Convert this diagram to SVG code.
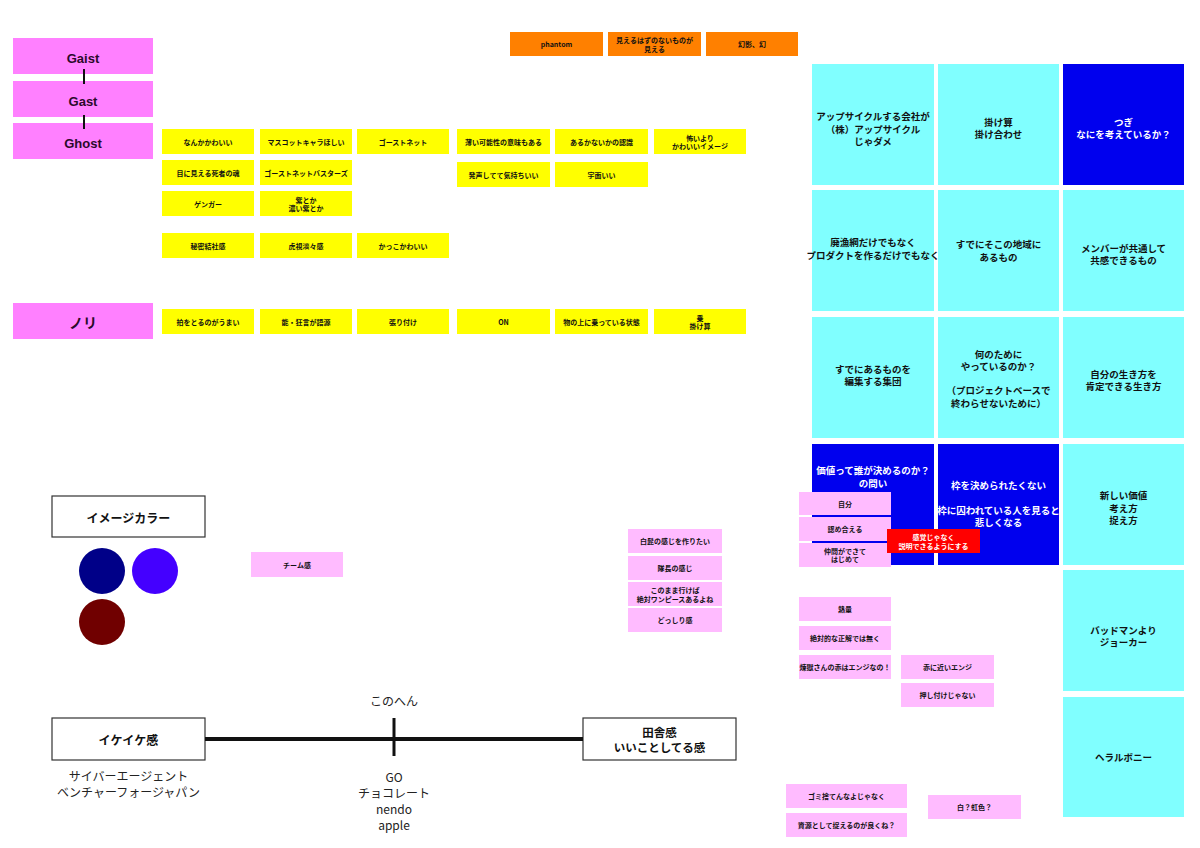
<svg xmlns="http://www.w3.org/2000/svg" width="1200" height="848" viewBox="0 0 1200 848">
<style>
text{font-family:"Noto Sans CJK JP","Liberation Sans",sans-serif;text-anchor:middle;dominant-baseline:central;fill:#111}
.mag{fill:#FF80FF}
.ttl{font-family:"Liberation Sans","Noto Sans CJK JP",sans-serif;font-weight:bold;font-size:13px;fill:#2a0a2a}
.org{fill:#FF8000}
.yel{fill:#FFFF00}
.pk{fill:#FFBBFF}
.cy{fill:#80FFFF}
.bl{fill:#0000EE}
.red{fill:#FF0000}
.s{font-size:7px;font-weight:bold}
.c{font-size:9.5px;font-weight:bold}
.w{fill:#fff}
.bx{fill:#fff;stroke:#333;stroke-width:1.2}
.h{font-size:12px;font-weight:bold}
.n{font-size:12px;font-weight:normal;fill:#222}
</style>
<rect width="1200" height="848" fill="#fff"/>

<g id="gaist"><rect class="mag" x="13" y="38" width="140" height="36"/><text class="ttl" x="83" y="58">Gaist</text></g>
<g id="gast"><rect class="mag" x="13" y="81" width="140" height="36"/><text class="ttl" x="83" y="101">Gast</text></g>
<g id="ghost"><rect class="mag" x="13" y="123" width="140" height="36"/><text class="ttl" x="83" y="143">Ghost</text></g>
<g id="nori"><rect class="mag" x="13" y="303" width="140" height="36"/><text x="83" y="322" style="font-size:14px;font-weight:bold;fill:#2a0a2a">ノリ</text></g>

<g id="o1"><rect class="org" x="510" y="32" width="93" height="24"/><text class="s" x="556.5" y="44">phantom</text></g>
<g id="o2"><rect class="org" x="608" y="32" width="93" height="24"/><text class="s" x="654.5" y="40">見えるはずのないものが</text><text class="s" x="654.5" y="49">見える</text></g>
<g id="o3"><rect class="org" x="706" y="32" width="92" height="24"/><text class="s" x="752" y="44">幻影、幻</text></g>

<g id="y11"><rect class="yel" x="162" y="129" width="92" height="25"/><text class="s" x="208" y="141.5">なんかかわいい</text></g>
<g id="y12"><rect class="yel" x="260" y="129" width="92" height="25"/><text class="s" x="306" y="141.5">マスコットキャラほしい</text></g>
<g id="y13"><rect class="yel" x="357" y="129" width="92" height="25"/><text class="s" x="403" y="141.5">ゴーストネット</text></g>
<g id="y14"><rect class="yel" x="457" y="129" width="93" height="25"/><text class="s" x="503.5" y="141.5">薄い可能性の意味もある</text></g>
<g id="y15"><rect class="yel" x="555" y="129" width="93" height="25"/><text class="s" x="601.5" y="141.5">あるかないかの認識</text></g>
<g id="y16"><rect class="yel" x="654" y="129" width="92" height="25"/><text class="s" x="700" y="137.5">怖いより</text><text class="s" x="700" y="146">かわいいイメージ</text></g>

<g id="y21"><rect class="yel" x="162" y="160" width="92" height="25"/><text class="s" x="208" y="172.5">目に見える死者の魂</text></g>
<g id="y22"><rect class="yel" x="260" y="160" width="92" height="25"/><text class="s" x="306" y="172.5">ゴーストネットバスターズ</text></g>
<g id="y24"><rect class="yel" x="457" y="162" width="93" height="25"/><text class="s" x="503.5" y="174.5">発声してて気持ちいい</text></g>
<g id="y25"><rect class="yel" x="555" y="162" width="93" height="25"/><text class="s" x="601.5" y="174.5">宇面いい</text></g>

<g id="y31"><rect class="yel" x="162" y="191" width="92" height="25"/><text class="s" x="208" y="203.5">ゲンガー</text></g>
<g id="y32"><rect class="yel" x="260" y="191" width="92" height="25"/><text class="s" x="306" y="199.5">紫とか</text><text class="s" x="306" y="208">濃い紫とか</text></g>

<g id="y41"><rect class="yel" x="162" y="233" width="92" height="25"/><text class="s" x="208" y="245.5">秘密結社感</text></g>
<g id="y42"><rect class="yel" x="260" y="233" width="92" height="25"/><text class="s" x="306" y="245.5">虎視淡々感</text></g>
<g id="y43"><rect class="yel" x="357" y="233" width="92" height="25"/><text class="s" x="403" y="245.5">かっこかわいい</text></g>

<g id="n1"><rect class="yel" x="162" y="309" width="92" height="25"/><text class="s" x="208" y="321.5">拍をとるのがうまい</text></g>
<g id="n2"><rect class="yel" x="260" y="309" width="92" height="25"/><text class="s" x="306" y="321.5">能・狂言が語源</text></g>
<g id="n3"><rect class="yel" x="357" y="309" width="92" height="25"/><text class="s" x="403" y="321.5">張り付け</text></g>
<g id="n4"><rect class="yel" x="457" y="309" width="93" height="25"/><text class="s" x="503.5" y="321.5">ON</text></g>
<g id="n5"><rect class="yel" x="555" y="309" width="93" height="25"/><text class="s" x="601.5" y="321.5">物の上に乗っている状態</text></g>
<g id="n6"><rect class="yel" x="654" y="309" width="92" height="25"/><text class="s" x="700" y="317.5">乗</text><text class="s" x="700" y="326">掛け算</text></g>

<g id="c11"><rect class="cy" x="812" y="64" width="122" height="121"/><text class="c" x="873" y="116">アップサイクルする会社が</text><text class="c" x="873" y="129">（株）アップサイクル</text><text class="c" x="873" y="141">じゃダメ</text></g>
<g id="c12"><rect class="cy" x="938" y="64" width="121" height="121"/><text class="c" x="998.5" y="122">掛け算</text><text class="c" x="998.5" y="134">掛け合わせ</text></g>
<g id="c13"><rect class="bl" x="1063" y="64" width="121" height="121"/><text class="c w" x="1123.5" y="122">つぎ</text><text class="c w" x="1123.5" y="134">なにを考えているか？</text></g>

<g id="c21"><rect class="cy" x="812" y="190" width="122" height="121"/><text class="c" x="873" y="242">廃漁網だけでもなく</text><text class="c" x="873" y="255">プロダクトを作るだけでもなく</text></g>
<g id="c22"><rect class="cy" x="938" y="190" width="121" height="121"/><text class="c" x="998.5" y="244">すでにそこの地域に</text><text class="c" x="998.5" y="257">あるもの</text></g>
<g id="c23"><rect class="cy" x="1063" y="190" width="121" height="121"/><text class="c" x="1123.5" y="248">メンバーが共通して</text><text class="c" x="1123.5" y="260">共感できるもの</text></g>

<g id="c31"><rect class="cy" x="812" y="317" width="122" height="121"/><text class="c" x="873" y="369">すでにあるものを</text><text class="c" x="873" y="381">編集する集団</text></g>
<g id="c32"><rect class="cy" x="938" y="317" width="121" height="121"/><text class="c" x="998.5" y="354">何のために</text><text class="c" x="998.5" y="366">やっているのか？</text><text class="c" x="998.5" y="390">（プロジェクトベースで</text><text class="c" x="998.5" y="403">終わらせないために）</text></g>
<g id="c33"><rect class="cy" x="1063" y="317" width="121" height="121"/><text class="c" x="1123.5" y="374">自分の生き方を</text><text class="c" x="1123.5" y="386">肯定できる生き方</text></g>

<g id="c41"><rect class="bl" x="812" y="444" width="122" height="121"/><text class="c w" x="873" y="470">価値って誰が決めるのか？</text><text class="c w" x="873" y="483">の問い</text></g>
<g id="c42"><rect class="bl" x="938" y="444" width="121" height="121"/><text class="c w" x="998.5" y="485">枠を決められたくない</text><text class="c w" x="998.5" y="510">枠に囚われている人を見ると</text><text class="c w" x="998.5" y="522">悲しくなる</text></g>
<g id="c43"><rect class="cy" x="1063" y="444" width="121" height="121"/><text class="c" x="1123.5" y="495">新しい価値</text><text class="c" x="1123.5" y="508">考え方</text><text class="c" x="1123.5" y="520">捉え方</text></g>

<g id="c53"><rect class="cy" x="1063" y="570" width="121" height="121"/><text class="c" x="1123.5" y="630">バッドマンより</text><text class="c" x="1123.5" y="642">ジョーカー</text></g>
<g id="c63"><rect class="cy" x="1063" y="697" width="121" height="120"/><text class="c" x="1123.5" y="757">ヘラルボニー</text></g>

<g id="p1"><rect class="pk" x="799" y="492" width="92" height="23"/><text class="s" x="845" y="503.5">自分</text></g>
<g id="p2"><rect class="pk" x="799" y="517" width="92" height="24"/><text class="s" x="845" y="529">認め合える</text></g>
<g id="p3"><rect class="pk" x="799" y="543" width="92" height="24"/><text class="s" x="845" y="551">仲間ができて</text><text class="s" x="845" y="559">はじめて</text></g>
<g id="r1"><rect class="red" x="887" y="529" width="93" height="24"/><text class="s w" x="933.5" y="537">感覚じゃなく</text><text class="s w" x="933.5" y="545.5">説明できるようにする</text></g>

<g id="p4"><rect class="pk" x="799" y="597" width="92" height="24"/><text class="s" x="845" y="609">熱量</text></g>
<g id="p5"><rect class="pk" x="799" y="626" width="92" height="24"/><text class="s" x="845" y="638">絶対的な正解では無く</text></g>
<g id="p6"><rect class="pk" x="799" y="655" width="92" height="24"/><text class="s" x="845" y="667">煉獄さんの赤はエンジなの！</text></g>
<g id="p7"><rect class="pk" x="901" y="655" width="93" height="24"/><text class="s" x="947.5" y="667">赤に近いエンジ</text></g>
<g id="p8"><rect class="pk" x="901" y="683" width="93" height="24"/><text class="s" x="947.5" y="695">押し付けじゃない</text></g>

<g id="p9"><rect class="pk" x="786" y="784" width="121" height="24"/><text class="s" x="846.5" y="796">ゴミ捨てんなよじゃなく</text></g>
<g id="p10"><rect class="pk" x="786" y="813" width="121" height="24"/><text class="s" x="846.5" y="825">資源として捉えるのが良くね？</text></g>
<g id="p11"><rect class="pk" x="928" y="795" width="93" height="24"/><text class="s" x="974.5" y="807">白？虹色？</text></g>

<g id="pteam"><rect class="pk" x="251" y="552" width="92" height="25"/><text class="s" x="297" y="564.5">チーム感</text></g>
<g id="pm1"><rect class="pk" x="628" y="529" width="94" height="24"/><text class="s" x="675" y="541">白髭の感じを作りたい</text></g>
<g id="pm2"><rect class="pk" x="628" y="556" width="94" height="24"/><text class="s" x="675" y="568">隊長の感じ</text></g>
<g id="pm3"><rect class="pk" x="628" y="582" width="94" height="24"/><text class="s" x="675" y="590">このまま行けば</text><text class="s" x="675" y="598.5">絶対ワンピースあるよね</text></g>
<g id="pm4"><rect class="pk" x="628" y="608" width="94" height="24"/><text class="s" x="675" y="620">どっしり感</text></g>

<g id="imagecolor"><rect class="bx" x="52" y="496" width="153" height="41"/><text class="h" x="128.5" y="517">イメージカラー</text>
<circle cx="102" cy="571" r="23" fill="#000088"/><circle cx="155" cy="571" r="23" fill="#4400FF"/><circle cx="102" cy="622" r="23" fill="#700000"/></g>

<g id="ikeike"><rect class="bx" x="52" y="718" width="153" height="42"/><text class="h" x="128.5" y="739">イケイケ感</text>
<text class="n" x="128.5" y="775">サイバーエージェント</text><text class="n" x="128.5" y="791">ベンチャーフォージャパン</text></g>
<g id="inaka"><rect class="bx" x="583" y="718" width="153" height="42"/><text class="h" x="659.5" y="731.5" style="font-size:11.5px">田舎感</text><text class="h" x="659.5" y="746.5" style="font-size:11.5px">いいことしてる感</text></g>
<g id="konohen"><text class="n" x="394" y="700">このへん</text>
<text class="n" x="394" y="776">GO</text><text class="n" x="394" y="792">チョコレート</text><text class="n" x="394" y="808">nendo</text><text class="n" x="394" y="824">apple</text></g>

<g id="connectors" stroke="#111">
<line x1="84" y1="69" x2="84" y2="84" stroke-width="2"/>
<line x1="84" y1="115" x2="84" y2="129" stroke-width="2"/>
<line x1="205" y1="739" x2="583" y2="739" stroke-width="4"/>
<line x1="394" y1="718" x2="394" y2="756" stroke-width="3"/>
</g>
</svg>
